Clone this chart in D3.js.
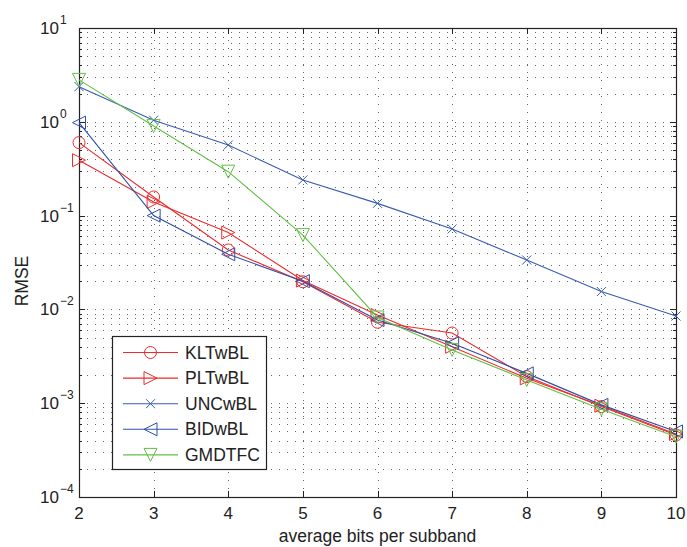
<!DOCTYPE html>
<html><head><meta charset="utf-8">
<script src="https://cdn.jsdelivr.net/npm/d3@7"></script>
<style>body{margin:0;background:#fff}svg{display:block;font-family:"Liberation Sans",Arial,sans-serif}</style>
</head><body><svg id="c" width="687" height="547"></svg>
<script>
const xValues = [2,3,4,5,6,7,8,9,10];
const klt = [0.60,0.158,0.043,0.0197,0.0073,0.0056,0.00192,0.00092,0.000458];
const plt = [0.39,0.140,0.066,0.0203,0.0087,0.0040,0.00184,0.00094,0.00047];
const unc = [2.37,1.04,0.566,0.24,0.135,0.072,0.0336,0.0155,0.0085];
const bid = [0.98,0.100,0.0387,0.0200,0.0077,0.00435,0.00208,0.00096,0.00050];
const gmd = [2.80,0.90,0.294,0.062,0.0082,0.0037,0.00177,0.00086,0.00044];
const seriesNames = ["KLTwBL","PLTwBL","UNCwBL","BIDwBL","GMDTFC"];
const xTicks = [2,3,4,5,6,7,8,9,10];
const yExponents = [1,0,-1,-2,-3,-4];

const series = [
  {name:seriesNames[0], vals:klt, color:"#ee2a2a", marker:"o"},
  {name:seriesNames[1], vals:plt, color:"#ee2a2a", marker:">"},
  {name:seriesNames[2], vals:unc, color:"#3a5cb0", marker:"x"},
  {name:seriesNames[3], vals:bid, color:"#2f4fa8", marker:"<"},
  {name:seriesNames[4], vals:gmd, color:"#62c046", marker:"v"}
];

const L=79, R=676, T=28, B=497;
const svg = d3.select("#c");
const x = d3.scaleLinear().domain([2,10]).range([L,R]);
const y = d3.scaleLog().domain([1e-4,10]).range([B,T]);

// grid
const g = svg.append("g");
const minorVals = [];
for (let e=-4;e<1;e++) for (let m=1;m<10;m++) minorVals.push(m*Math.pow(10,e));
minorVals.push(10);
g.selectAll("line.hg").data(minorVals.filter(v=>v>1e-4 && v<10)).enter().append("line")
  .attr("x1",L).attr("x2",R).attr("y1",d=>Math.round(y(d))+0.5).attr("y2",d=>Math.round(y(d))+0.5)
  .attr("stroke","#666").attr("stroke-width",1).attr("stroke-dasharray","1,7");
g.selectAll("line.vg").data(xTicks.slice(1,-1)).enter().append("line")
  .attr("x1",d=>Math.round(x(d))+0.5).attr("x2",d=>Math.round(x(d))+0.5).attr("y1",B).attr("y2",T)
  .attr("stroke","#666").attr("stroke-width",1).attr("stroke-dasharray","1,7");

// frame
svg.append("rect").attr("x",L+0.5).attr("y",T+0.5).attr("width",R-L).attr("height",B-T)
  .attr("fill","none").attr("stroke","#222").attr("stroke-width",1.2);

// ticks
const tk = svg.append("g").attr("stroke","#222").attr("stroke-width",1);
xTicks.forEach(v=>{
  const px = Math.round(x(v))+0.5;
  tk.append("line").attr("x1",px).attr("x2",px).attr("y1",B).attr("y2",B-6);
  tk.append("line").attr("x1",px).attr("x2",px).attr("y1",T).attr("y2",T+6);
});
minorVals.forEach(v=>{
  const py = Math.round(y(v))+0.5;
  const major = Math.abs(Math.log10(v)-Math.round(Math.log10(v)))<1e-9;
  const len = major?6:3;
  tk.append("line").attr("x1",L).attr("x2",L+len).attr("y1",py).attr("y2",py);
  tk.append("line").attr("x1",R).attr("x2",R-len).attr("y1",py).attr("y2",py);
});

// x tick labels
svg.append("g").selectAll("text").data(xTicks).enter().append("text")
  .attr("x",d=>x(d)).attr("y",519).attr("text-anchor","middle")
  .attr("font-size",17).attr("fill","#222").text(d=>d);

// y tick labels
yExponents.forEach(e=>{
  svg.append("text").attr("x",59).attr("y",y(Math.pow(10,e))+6)
    .attr("font-size",17).attr("fill","#222").attr("text-anchor","end").text("10");
  svg.append("text").attr("x",60).attr("y",y(Math.pow(10,e))-4)
    .attr("font-size",12).attr("fill","#222").attr("text-anchor","start")
    .text(e<0?"\u2212"+(-e):String(e));
});

// axis labels
svg.append("text").attr("x",(L+R)/2).attr("y",542).attr("text-anchor","middle")
  .attr("font-size",17.5).attr("fill","#222").text("average bits per subband");
svg.append("text").attr("transform","translate(28,281) rotate(-90)").attr("text-anchor","middle")
  .attr("font-size",17.5).attr("fill","#222").text("RMSE");

// marker drawing
function drawMarker(sel, type, cx, cy, color){
  const s = 6.5;
  if (type==="o") {
    sel.append("circle").attr("cx",cx).attr("cy",cy).attr("r",6).attr("fill","none").attr("stroke",color).attr("stroke-width",1);
  } else if (type==="x") {
    sel.append("path").attr("d",`M${cx-4.5},${cy-4.5}L${cx+4.5},${cy+4.5}M${cx-4.5},${cy+4.5}L${cx+4.5},${cy-4.5}`)
      .attr("stroke",color).attr("stroke-width",1).attr("fill","none");
  } else {
    let pts;
    if (type===">") pts=[[cx-s,cy-s],[cx+s,cy],[cx-s,cy+s]];
    else if (type==="<") pts=[[cx+s,cy-s],[cx-s,cy],[cx+s,cy+s]];
    else pts=[[cx-s,cy-s],[cx+s,cy-s],[cx,cy+s]];
    sel.append("path").attr("d","M"+pts.map(p=>p.join(",")).join("L")+"Z")
      .attr("fill","none").attr("stroke",color).attr("stroke-width",1);
  }
}

// series
const line = d3.line().x((d,i)=>x(xValues[i])).y(d=>y(d));
const plot = svg.append("g");
series.forEach(sr=>{
  plot.append("path").attr("d",line(sr.vals)).attr("fill","none").attr("stroke",sr.color).attr("stroke-width",1.1);
  sr.vals.forEach((v,i)=>drawMarker(plot, sr.marker, x(xValues[i]), y(v), sr.color));
});

// legend
const lg = svg.append("g");
lg.append("rect").attr("x",112.5).attr("y",336.5).attr("width",154).attr("height",133)
  .attr("fill","#fff").attr("stroke","#222").attr("stroke-width",1.2);
series.forEach((sr,i)=>{
  const ly = 352.5 + i*25.6;
  lg.append("line").attr("x1",123).attr("x2",178).attr("y1",ly).attr("y2",ly)
    .attr("stroke",sr.color).attr("stroke-width",1.1);
  drawMarker(lg, sr.marker, 150.5, ly, sr.color);
  lg.append("text").attr("x",185).attr("y",ly+6).attr("font-size",17.5).attr("fill","#222").text(sr.name);
});
</script></body></html>
